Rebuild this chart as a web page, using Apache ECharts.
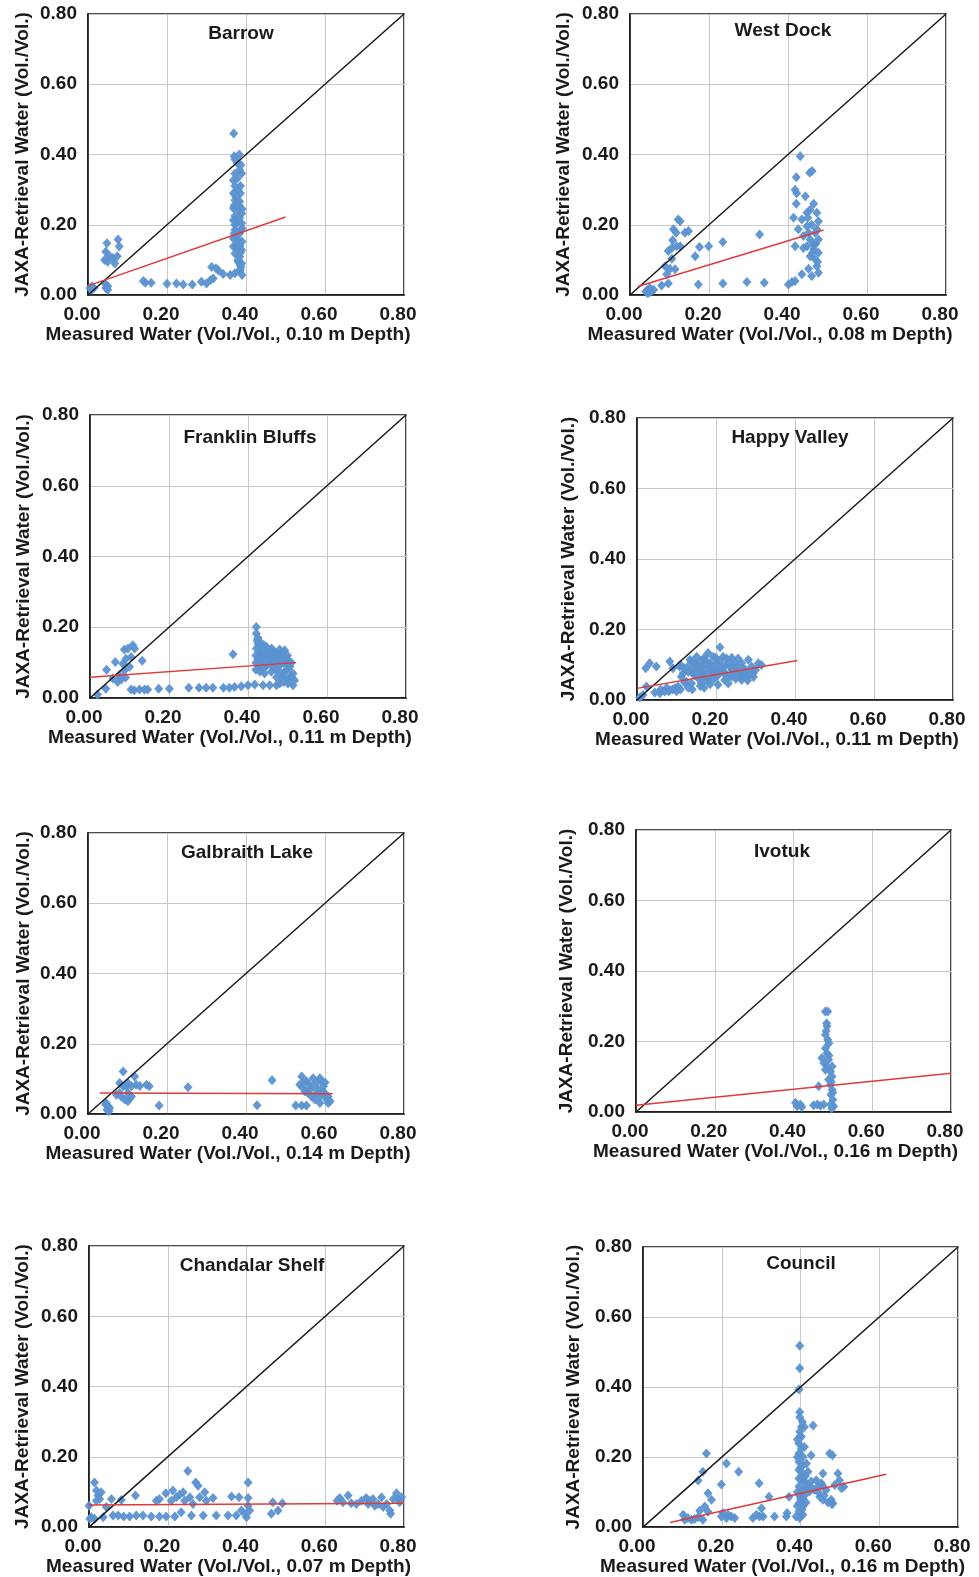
<!DOCTYPE html>
<html>
<head>
<meta charset="utf-8">
<script src="https://cdn.jsdelivr.net/npm/echarts@6/dist/echarts.min.js"></script>
<style>
html,body{margin:0;padding:0;background:#fff;}
#c{width:979px;height:1577px;}
</style>
</head>
<body>
<div id="c"></div>
<script>
// ---------- DATA ----------
var sites = ['Barrow','West Dock','Franklin Bluffs','Happy Valley','Galbraith Lake','Ivotuk','Chandalar Shelf','Council'];
var depths = ['0.10','0.08','0.11','0.11','0.14','0.16','0.07','0.16'];
var tickLabels = ['0.00','0.20','0.40','0.60','0.80'];
var oneToOne = [[0,0],[0.8,0.8]];

var barrowPts = [[0.005,0.02],[0.01,0.015],[0.01,0.025],[0.015,0.02],[0.045,0.02],[0.05,0.025],[0.05,0.015],[0.045,0.03],
[0.048,0.147],[0.045,0.123],[0.042,0.10],[0.055,0.11],[0.063,0.105],[0.074,0.11],[0.076,0.158],[0.079,0.138],[0.068,0.09],[0.05,0.095],
[0.14,0.04],[0.145,0.035],[0.16,0.035],[0.2,0.032],[0.224,0.033],[0.241,0.03],[0.264,0.03],[0.287,0.038],[0.3,0.033],[0.31,0.043],[0.317,0.047],
[0.313,0.08],[0.324,0.076],[0.33,0.07],[0.342,0.06],[0.36,0.057],[0.372,0.062],[0.384,0.071],
[0.369,0.46],[0.372,0.386],[0.383,0.40],[0.378,0.375],[0.384,0.356],[0.372,0.346],[0.389,0.346],[0.368,0.327],[0.378,0.332],[0.368,0.29],[0.386,0.29],
[0.372,0.27],[0.384,0.266],[0.368,0.247],[0.38,0.242],[0.389,0.232],[0.368,0.213],[0.378,0.206],[0.389,0.204],[0.372,0.185],[0.384,0.176],[0.368,0.161],
[0.38,0.157],[0.39,0.152],[0.368,0.138],[0.378,0.133],[0.389,0.128],[0.384,0.109],[0.389,0.09],[0.386,0.071],[0.39,0.057],[0.372,0.225],[0.384,0.22],
[0.37,0.175],[0.388,0.185],[0.376,0.145],[0.38,0.3],[0.37,0.255],[0.386,0.12],[0.38,0.095],[0.387,0.08],
[0.372,0.31],[0.386,0.31],[0.375,0.28],[0.383,0.255],[0.372,0.2],[0.39,0.19],[0.375,0.165],[0.385,0.14],[0.372,0.118],[0.38,0.1],[0.385,0.085],
[0.376,0.215],[0.39,0.245],[0.387,0.37],[0.37,0.395]];
var barrowFit = [[0,0.026],[0.5,0.222]];

var westDockPts = [[0.04,0.01],[0.045,0.015],[0.05,0.008],[0.055,0.012],[0.05,0.02],[0.06,0.015],[0.045,0.005],
[0.08,0.027],[0.097,0.033],[0.093,0.059],[0.089,0.082],[0.101,0.075],[0.114,0.073],[0.106,0.103],[0.097,0.125],[0.106,0.134],[0.118,0.139],[0.127,0.139],
[0.108,0.156],[0.11,0.187],[0.117,0.177],[0.122,0.215],[0.127,0.21],[0.139,0.177],[0.148,0.182],[0.165,0.11],[0.176,0.137],[0.199,0.139],[0.173,0.03],
[0.235,0.151],[0.235,0.033],[0.296,0.037],[0.328,0.172],[0.34,0.035],
[0.401,0.03],[0.41,0.037],[0.418,0.04],[0.435,0.059],[0.452,0.075],[0.46,0.054],[0.431,0.395],[0.421,0.335],[0.455,0.348],[0.461,0.353],[0.418,0.3],
[0.422,0.29],[0.421,0.26],[0.444,0.281],[0.414,0.22],[0.435,0.215],[0.448,0.234],[0.465,0.26],[0.456,0.243],[0.473,0.234],[0.426,0.187],[0.448,0.196],
[0.46,0.2],[0.477,0.21],[0.418,0.139],[0.439,0.168],[0.456,0.158],[0.469,0.177],[0.477,0.158],[0.448,0.139],[0.465,0.13],[0.477,0.12],[0.456,0.11],
[0.469,0.101],[0.473,0.082],[0.477,0.063],[0.439,0.134],[0.465,0.144],[0.452,0.177],[0.473,0.187],[0.462,0.12],[0.47,0.145],[0.45,0.22],[0.475,0.095]];
var westDockFit = [[0.02,0.024],[0.49,0.185]];

var franklinPts = [[0.019,0.01],[0.04,0.026],[0.042,0.08],[0.064,0.102],[0.058,0.055],[0.07,0.045],[0.074,0.064],[0.087,0.078],[0.083,0.097],[0.091,0.111],
[0.087,0.137],[0.096,0.14],[0.108,0.149],[0.113,0.14],[0.104,0.116],[0.1,0.088],[0.09,0.058],[0.079,0.052],[0.132,0.105],
[0.104,0.024],[0.112,0.022],[0.125,0.024],[0.138,0.024],[0.146,0.024],[0.174,0.026],[0.201,0.026],[0.25,0.029],[0.276,0.029],[0.294,0.029],[0.311,0.029],
[0.338,0.029],[0.353,0.029],[0.366,0.031],[0.383,0.033],[0.4,0.036],[0.417,0.038],[0.438,0.036],[0.455,0.036],[0.472,0.036],[0.48,0.041],[0.362,0.124],
[0.421,0.201],[0.421,0.182],[0.423,0.163],[0.43,0.149],[0.438,0.14],[0.447,0.144],[0.421,0.14],[0.43,0.125],[0.425,0.111],[0.438,0.116],[0.455,0.135],
[0.468,0.13],[0.48,0.137],[0.493,0.135],[0.489,0.121],[0.472,0.111],[0.455,0.107],[0.447,0.092],[0.43,0.088],[0.463,0.088],[0.48,0.092],[0.497,0.097],
[0.506,0.088],[0.514,0.069],[0.518,0.05],[0.506,0.059],[0.493,0.074],[0.501,0.041],[0.514,0.036],[0.485,0.059],[0.472,0.059],[0.459,0.074],[0.442,0.069],
[0.434,0.102],[0.446,0.125],[0.462,0.12],[0.476,0.124],[0.498,0.112],[0.51,0.1],[0.428,0.13],
[0.425,0.17],[0.43,0.16],[0.44,0.15],[0.45,0.12],[0.46,0.14],[0.47,0.12],[0.48,0.11],[0.49,0.1],[0.42,0.12],[0.42,0.1],[0.43,0.1],[0.44,0.11],
[0.45,0.095],[0.46,0.1],[0.47,0.08],[0.48,0.075],[0.49,0.065],[0.5,0.08],[0.51,0.06],[0.5,0.05],[0.49,0.045],[0.44,0.085],[0.425,0.155],[0.435,0.125],
[0.455,0.115],[0.465,0.13],[0.475,0.1],[0.485,0.13],[0.5,0.12],[0.505,0.1],[0.42,0.08],[0.43,0.075]];
var franklinFit = [[0,0.059],[0.521,0.1]];

var happyPts = [[0.007,0.007],[0.015,0.014],[0.024,0.038],[0.022,0.09],[0.032,0.104],[0.049,0.095],[0.045,0.021],[0.058,0.019],[0.07,0.024],[0.083,0.028],
[0.096,0.033],[0.083,0.109],[0.091,0.09],[0.108,0.095],[0.112,0.066],[0.125,0.052],[0.129,0.095],[0.134,0.114],[0.142,0.076],[0.146,0.104],[0.155,0.062],
[0.159,0.09],[0.167,0.076],[0.172,0.114],[0.18,0.133],[0.176,0.057],[0.188,0.095],[0.193,0.071],[0.201,0.104],[0.21,0.15],[0.214,0.085],[0.222,0.057],
[0.227,0.118],[0.235,0.095],[0.239,0.066],[0.248,0.104],[0.252,0.076],[0.256,0.118],[0.265,0.057],[0.269,0.09],[0.282,0.114],[0.282,0.066],[0.294,0.076],
[0.307,0.104],[0.315,0.099],[0.29,0.095],[0.151,0.123],[0.138,0.047],[0.104,0.038],[0.117,0.076],[0.163,0.047],[0.205,0.043],[0.184,0.057],[0.231,0.047],
[0.26,0.066],[0.193,0.123],[0.218,0.123],[0.06,0.03],[0.075,0.035],[0.15,0.085],[0.2,0.08],[0.24,0.085],[0.27,0.075],[0.175,0.1],[0.225,0.07],
[0.11,0.1],[0.12,0.09],[0.13,0.08],[0.14,0.09],[0.145,0.07],[0.15,0.1],[0.16,0.08],[0.165,0.095],[0.17,0.065],[0.175,0.085],[0.18,0.075],[0.185,0.105],
[0.19,0.085],[0.195,0.06],[0.2,0.09],[0.205,0.07],[0.21,0.11],[0.215,0.095],[0.22,0.08],[0.225,0.1],[0.23,0.065],[0.235,0.11],[0.24,0.075],[0.245,0.09],
[0.25,0.06],[0.255,0.095],[0.26,0.08],[0.265,0.105],[0.27,0.07],[0.275,0.085],[0.28,0.055],[0.285,0.075],[0.295,0.065],[0.3,0.085],[0.12,0.05],[0.13,0.035],
[0.14,0.03],[0.16,0.04],[0.17,0.035],[0.185,0.045],[0.08,0.025],[0.09,0.03],[0.1,0.025],[0.11,0.03],[0.2,0.12],[0.17,0.12],[0.24,0.12],[0.14,0.11],[0.16,0.11]];
var happyFit = [[0,0.033],[0.406,0.112]];

var galbraithPts = [[0.046,0.031],[0.051,0.022],[0.048,0.012],[0.055,0.017],[0.045,0.026],[0.053,0.008],
[0.072,0.055],[0.08,0.06],[0.089,0.121],[0.08,0.088],[0.089,0.079],[0.101,0.088],[0.097,0.079],[0.11,0.079],[0.118,0.107],[0.122,0.083],[0.131,0.08],
[0.148,0.083],[0.155,0.079],[0.093,0.041],[0.101,0.036],[0.106,0.045],[0.11,0.05],[0.101,0.06],[0.084,0.05],[0.18,0.024],[0.253,0.076],[0.428,0.025],[0.466,0.096],
[0.526,0.024],[0.541,0.024],[0.553,0.024],[0.541,0.107],[0.536,0.083],[0.545,0.074],[0.553,0.093],[0.562,0.069],[0.57,0.079],[0.579,0.06],[0.587,0.102],
[0.591,0.093],[0.596,0.079],[0.6,0.055],[0.604,0.041],[0.608,0.031],[0.587,0.031],[0.574,0.041],[0.566,0.05],[0.579,0.088],[0.557,0.06],[0.549,0.064],
[0.596,0.064],[0.608,0.05],[0.613,0.036],[0.583,0.069],[0.57,0.102],[0.587,0.05],[0.545,0.09],[0.56,0.085],[0.6,0.09]];
var galbraithFit = [[0.03,0.06],[0.619,0.058]];

var ivotukPts = [[0.405,0.026],[0.409,0.016],[0.417,0.021],[0.421,0.014],[0.451,0.019],[0.46,0.021],[0.468,0.018],[0.477,0.021],[0.464,0.073],
[0.481,0.285],[0.487,0.285],[0.484,0.252],[0.485,0.243],[0.481,0.219],[0.487,0.205],[0.481,0.181],[0.485,0.167],[0.472,0.153],[0.477,0.139],[0.485,0.129],
[0.489,0.148],[0.494,0.115],[0.498,0.101],[0.489,0.092],[0.494,0.077],[0.498,0.063],[0.495,0.049],[0.5,0.035],[0.494,0.021],[0.502,0.016],[0.481,0.12],
[0.498,0.129],[0.49,0.195],[0.483,0.23],[0.49,0.16],[0.496,0.085],[0.5,0.055],[0.497,0.01]];
var ivotukFit = [[0,0.019],[0.8,0.11]];

var chandalarPts = [[0.002,0.024],[0.006,0.028],[0.014,0.024],[0,0.061],[0.014,0.127],[0.019,0.104],[0.023,0.09],[0.027,0.08],[0.019,0.075],[0.031,0.099],
[0.036,0.028],[0.044,0.057],[0.057,0.08],[0.061,0.033],[0.074,0.033],[0.082,0.077],[0.088,0.03],[0.103,0.03],[0.118,0.09],[0.12,0.033],[0.137,0.033],
[0.158,0.03],[0.171,0.075],[0.179,0.08],[0.179,0.03],[0.195,0.096],[0.196,0.03],[0.209,0.075],[0.213,0.104],[0.218,0.03],[0.222,0.085],[0.23,0.092],
[0.234,0.042],[0.239,0.099],[0.243,0.075],[0.251,0.16],[0.256,0.085],[0.26,0.033],[0.264,0.066],[0.271,0.127],[0.277,0.118],[0.281,0.085],[0.29,0.033],
[0.294,0.099],[0.298,0.075],[0.315,0.083],[0.323,0.033],[0.353,0.033],[0.362,0.087],[0.374,0.033],[0.381,0.085],[0.387,0.047],[0.396,0.038],[0.4,0.028],
[0.404,0.127],[0.404,0.083],[0.404,0.061],[0.408,0.047],[0.463,0.038],[0.467,0.071],[0.48,0.047],[0.491,0.068],
[0.63,0.075],[0.637,0.083],[0.645,0.071],[0.658,0.09],[0.666,0.068],[0.679,0.066],[0.692,0.075],[0.704,0.083],[0.709,0.066],[0.713,0.074],[0.721,0.08],
[0.726,0.061],[0.734,0.066],[0.743,0.085],[0.747,0.057],[0.756,0.066],[0.764,0.047],[0.766,0.038],[0.773,0.08],[0.781,0.096],[0.785,0.08],[0.789,0.071],[0.794,0.085]];
var chandalarFit = [[0,0.063],[0.8,0.068]];

var councilPts = [[0.102,0.035],[0.106,0.021],[0.114,0.026],[0.123,0.021],[0.131,0.023],[0.14,0.028],[0.152,0.021],[0.144,0.047],[0.14,0.133],[0.152,0.158],
[0.161,0.21],[0.165,0.097],[0.174,0.078],[0.157,0.059],[0.165,0.044],[0.199,0.03],[0.203,0.04],[0.212,0.026],[0.216,0.035],[0.224,0.03],[0.233,0.026],
[0.199,0.122],[0.212,0.182],[0.243,0.158],[0.279,0.026],[0.288,0.035],[0.296,0.03],[0.295,0.125],[0.301,0.054],[0.305,0.03],[0.32,0.087],[0.334,0.03],
[0.364,0.03],[0.366,0.04],[0.371,0.087],
[0.398,0.518],[0.398,0.454],[0.396,0.393],[0.398,0.329],[0.398,0.314],[0.402,0.286],[0.398,0.272],[0.402,0.258],[0.396,0.239],[0.402,0.224],[0.396,0.21],
[0.406,0.201],[0.396,0.187],[0.406,0.177],[0.396,0.163],[0.406,0.153],[0.396,0.139],[0.406,0.13],[0.396,0.116],[0.406,0.106],[0.396,0.092],[0.406,0.082],
[0.396,0.068],[0.406,0.059],[0.396,0.045],[0.406,0.035],[0.398,0.026],[0.389,0.03],[0.41,0.286],[0.432,0.29],[0.427,0.205],[0.419,0.158],[0.415,0.125],
[0.427,0.13],[0.44,0.134],[0.444,0.116],[0.453,0.125],[0.449,0.087],[0.457,0.078],[0.465,0.106],[0.474,0.21],[0.481,0.205],[0.478,0.078],[0.482,0.068],
[0.487,0.12],[0.495,0.153],[0.499,0.134],[0.504,0.111],[0.51,0.115],[0.457,0.153],[0.423,0.102],[0.436,0.106],[0.415,0.182],[0.41,0.229],[0.412,0.145],[0.414,0.07],
[0.392,0.2],[0.4,0.17],[0.404,0.14],[0.392,0.1],[0.4,0.08],[0.404,0.05],[0.392,0.06],[0.41,0.09],[0.415,0.11],[0.42,0.12],[0.43,0.11],[0.445,0.1],
[0.46,0.09],[0.47,0.07],[0.48,0.065],[0.455,0.12],[0.4,0.26],[0.392,0.25],[0.405,0.3]];
var councilFit = [[0.069,0.013],[0.618,0.151]];

var allPts = [barrowPts, westDockPts, franklinPts, happyPts, galbraithPts, ivotukPts, chandalarPts, councilPts];
var allFits = [barrowFit, westDockFit, franklinFit, happyFit, galbraithFit, ivotukFit, chandalarFit, councilFit];

// ---------- LAYOUT (pixels) ----------
var grids = [[88,14,316,281],[630,14,316,281],[90,415,316,283],[637,418,316,282],
             [88,833,316,281],[636,830,315,282],[89,1246,315,282],[643,1247,315,282]];
var yGaps = [56,57,57,59,55,60,57,60];
var titlePos = [[241,34],[783,31],[250,438],[790,438],[247,853],[782,852],[252,1266],[801,1264]];

var FONT = '"Liberation Sans", Arial, sans-serif';
var TXT = '#1a1a1a';
var FS = 19;

var option = {
  backgroundColor: '#fff',
  animation: false,
  title: [], grid: [], xAxis: [], yAxis: [], series: []
};

function fmt(v){ var i = Math.round(v/0.2); return tickLabels[i] !== undefined ? tickLabels[i] : ''; }

for (var i = 0; i < 8; i++) {
  var g = grids[i];
  option.grid.push({left:g[0], top:g[1], width:g[2], height:g[3], show:true, borderColor:'#111', borderWidth:1.5, backgroundColor:'transparent'});
  option.title.push({
    text: sites[i], left: titlePos[i][0], top: titlePos[i][1]-10, textAlign:'center', padding:0,
    textStyle:{fontFamily:FONT, fontWeight:'bold', fontSize:FS, color:TXT}
  });
  option.xAxis.push({
    type:'value', gridIndex:i, min:0, max:0.8, interval:0.2,
    name:'Measured Water (Vol./Vol., ' + depths[i] + ' m Depth)',
    nameLocation:'middle', nameGap:21,
    nameTextStyle:{fontFamily:FONT, fontWeight:'bold', fontSize:FS, color:TXT, padding:[0,36,0,0]},
    axisLine:{show:true, onZero:false, lineStyle:{color:'#111', width:1.5}},
    axisTick:{show:false},
    splitLine:{show:true, lineStyle:{color:'#c8c8c8', width:1}},
    axisLabel:{formatter:fmt, fontFamily:FONT, fontWeight:'bold', fontSize:FS, color:TXT, margin:10, padding:[0,12,0,0], showMinLabel:true, showMaxLabel:true}
  });
  option.yAxis.push({
    type:'value', gridIndex:i, min:0, max:0.8, interval:0.2,
    name:'JAXA-Retrieval Water (Vol./Vol.)',
    nameLocation:'middle', nameGap:yGaps[i], nameRotate:90,
    nameTextStyle:{fontFamily:FONT, fontWeight:'bold', fontSize:FS, color:TXT},
    axisLine:{show:true, onZero:false, lineStyle:{color:'#111', width:1.5}},
    axisTick:{show:false},
    splitLine:{show:true, lineStyle:{color:'#c8c8c8', width:1}},
    axisLabel:{formatter:fmt, fontFamily:FONT, fontWeight:'bold', fontSize:FS, color:TXT, margin:11, showMinLabel:true, showMaxLabel:true}
  });
  option.series.push({
    type:'scatter', xAxisIndex:i, yAxisIndex:i, data:allPts[i],
    symbol:'diamond', symbolSize:[9,10],
    itemStyle:{color:'#5b92d0', opacity:0.95}, z:2
  });
  option.series.push({
    type:'line', xAxisIndex:i, yAxisIndex:i, data:oneToOne, symbol:'none',
    lineStyle:{color:'#1a1a1a', width:1.5}, z:3
  });
  option.series.push({
    type:'line', xAxisIndex:i, yAxisIndex:i, data:allFits[i], symbol:'none',
    lineStyle:{color:'#e03a3a', width:1.5}, z:4
  });
}

var chart = echarts.init(document.getElementById('c'), null, {renderer:'canvas'});
chart.setOption(option);
</script>
</body>
</html>
